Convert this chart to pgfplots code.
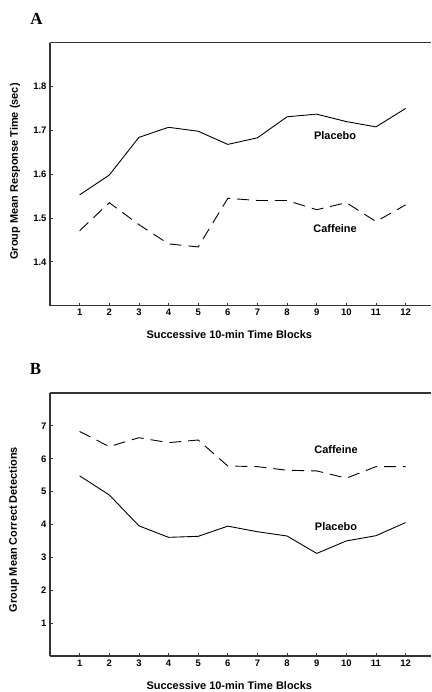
\documentclass[border=0pt]{standalone}
\usepackage{pgfplots}
\pgfplotsset{compat=1.18}
\usepackage{fontspec}
\setmainfont{Liberation Sans}
\newfontfamily\serifb{Liberation Serif}

\tikzset{lab/.style={font=\bfseries\fontsize{11}{13}\selectfont}}
\pgfplotsset{
  panel/.style={
    scale only axis,
    anchor=south west,
    width=381.4bp, height=263bp,
    xmin=0, xmax=12.87,
    xtick={1,...,12},
    axis lines=left,
    axis line style={-, line width=1.4pt, black!80},
    tick align=inside,
    major tick length=3bp,
    tick style={black!80, line width=0.8pt},
    tick label style={font=\bfseries\fontsize{9.5}{11}\selectfont},
    label style={font=\bfseries\fontsize{11}{13}\selectfont},
    /pgf/number format/assume math mode=true,
    xlabel={Successive 10-min Time Blocks},
    xlabel style={at={(rel axis cs:0.47,0)}, anchor=north, yshift=-21.7bp},
    clip=false,
  },
  plac/.style={black, line width=0.9pt},
  caff/.style={black, line width=0.9pt, dash pattern=on 12bp off 7bp},
}

\begin{document}
\begin{tikzpicture}
\path[use as bounding box] (0bp,0bp) rectangle (432bp,692bp);

% panel A
\begin{axis}[panel, at={(50bp,386.3bp)},
  ymin=1.3, ymax=1.9,
  ytick={1.4,1.5,1.6,1.7,1.8},
  yticklabel style={/pgf/number format/fixed, /pgf/number format/fixed zerofill, /pgf/number format/precision=1},
  ylabel={Group Mean Response Time (sec)},
  ylabel style={at={(rel axis cs:0,0.5)}, anchor=center, yshift=35bp, xshift=2.7bp},
]
\addplot[plac] coordinates {
  (1,1.553) (2,1.598) (3,1.684) (4,1.707) (5,1.698) (6,1.668)
  (7,1.683) (8,1.731) (9,1.737) (10,1.720) (11,1.708) (12,1.750)
};
\addplot[caff] coordinates {
  (1,1.471) (2,1.535) (3,1.485) (4,1.441) (5,1.434) (6,1.545)
  (7,1.540) (8,1.540) (9,1.519) (10,1.535) (11,1.492) (12,1.530)
};
\draw[line width=1.4pt, black!80] (rel axis cs:0,1) -- (rel axis cs:1,1);
\node[lab] at (axis cs:9.62,1.688) {Placebo};
\node[lab] at (axis cs:9.62,1.477) {Caffeine};
\end{axis}

% panel B
\begin{axis}[panel, at={(50bp,36bp)},
  ymin=0, ymax=8,
  ytick={1,...,7},
  ylabel={Group Mean Correct Detections},
  ylabel style={at={(rel axis cs:0,0.5)}, anchor=center, yshift=36bp, xshift=-5bp},
]
\addplot[caff] coordinates {
  (1,6.83) (2,6.37) (3,6.64) (4,6.49) (5,6.57) (6,5.78)
  (7,5.76) (8,5.65) (9,5.63) (10,5.41) (11,5.76) (12,5.76)
};
\addplot[plac] coordinates {
  (1,5.48) (2,4.90) (3,3.96) (4,3.61) (5,3.64) (6,3.95)
  (7,3.78) (8,3.65) (9,3.12) (10,3.50) (11,3.66) (12,4.06)
};
\draw[line width=1.4pt, black!80] (rel axis cs:0,1) -- (rel axis cs:1,1);
\node[lab] at (axis cs:9.65,6.27) {Caffeine};
\node[lab] at (axis cs:9.65,3.95) {Placebo};
\end{axis}

\node[font=\serifb\bfseries\fontsize{17}{18}\selectfont] at (36.5bp,673bp) {A};
\node[font=\serifb\bfseries\fontsize{17}{18}\selectfont] at (35.5bp,323.5bp) {B};
\end{tikzpicture}
\end{document}
